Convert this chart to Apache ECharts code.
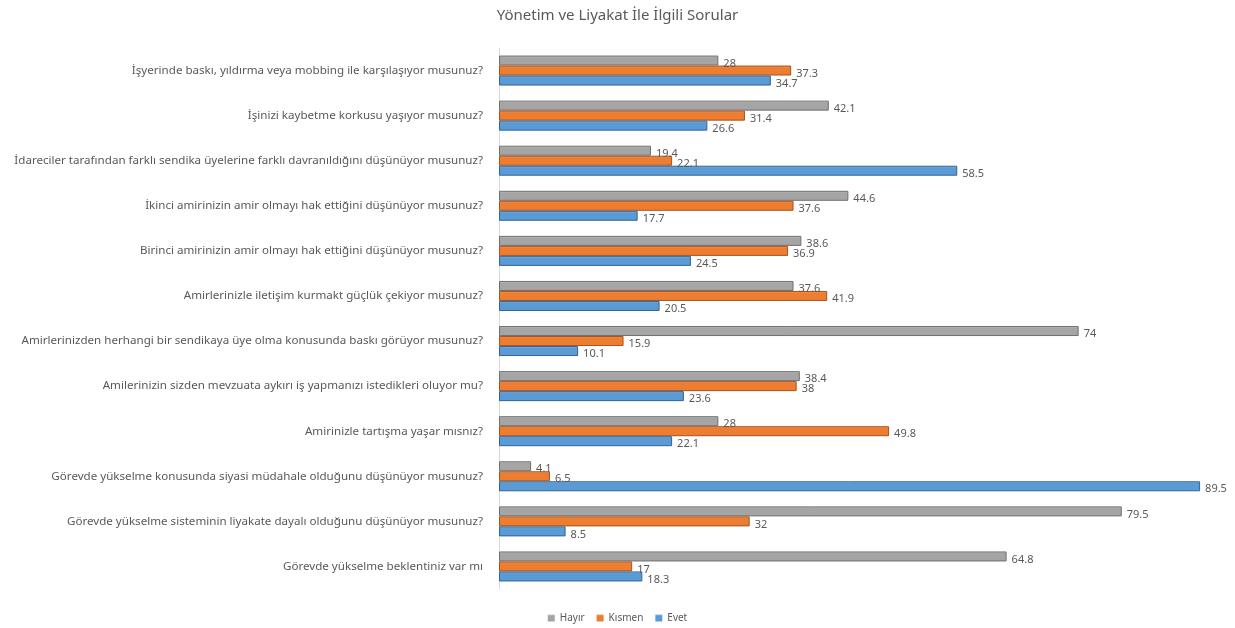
<!DOCTYPE html>
<html>
<head>
<meta charset="utf-8">
<script src="https://cdn.jsdelivr.net/npm/echarts@6/dist/echarts.min.js"></script>
<style>
  html, body { margin: 0; padding: 0; background: #ffffff; }
  #chart { width: 1235px; height: 628px; }
</style>
</head>
<body>
<div id="chart"></div>
<script>
// Survey questions, listed top to bottom
const questions = [
  'İşyerinde baskı, yıldırma veya mobbing ile karşılaşıyor musunuz?',
  'İşinizi kaybetme korkusu yaşıyor musunuz?',
  'İdareciler tarafından farklı sendika üyelerine farklı davranıldığını düşünüyor musunuz?',
  'İkinci amirinizin amir olmayı hak ettiğini düşünüyor musunuz?',
  'Birinci amirinizin amir olmayı hak ettiğini düşünüyor musunuz?',
  'Amirlerinizle iletişim kurmakt güçlük çekiyor musunuz?',
  'Amirlerinizden herhangi bir sendikaya üye olma konusunda baskı görüyor musunuz?',
  'Amilerinizin sizden mevzuata aykırı iş yapmanızı istedikleri oluyor mu?',
  'Amirinizle tartışma yaşar mısnız?',
  'Görevde yükselme konusunda siyasi müdahale olduğunu düşünüyor musunuz?',
  'Görevde yükselme sisteminin liyakate dayalı olduğunu düşünüyor musunuz?',
  'Görevde yükselme beklentiniz var mı'
];

// Answer shares (%)
const hayir  = [28, 42.1, 19.4, 44.6, 38.6, 37.6, 74, 38.4, 28, 4.1, 79.5, 64.8];
const kismen = [37.3, 31.4, 22.1, 37.6, 36.9, 41.9, 15.9, 38, 49.8, 6.5, 32, 17];
const evet   = [34.7, 26.6, 58.5, 17.7, 24.5, 20.5, 10.1, 23.6, 22.1, 89.5, 8.5, 18.3];

const seriesNames = ['Hayır', 'Kısmen', 'Evet'];

const FONT = '"Noto Sans", "Open Sans", sans-serif';
const TEXT = '#595959';

function barStyle(top, base, edge) {
  return {
    color: new echarts.graphic.LinearGradient(0, 0, 0, 1, [
      { offset: 0, color: top },
      { offset: 0.22, color: base },
      { offset: 1, color: base }
    ]),
    borderColor: edge,
    borderWidth: 1
  };
}

function makeSeries(name, data, style) {
  return {
    name: name,
    type: 'bar',
    data: data,
    barWidth: 10,
    barGap: '0%',
    itemStyle: style,
    label: {
      show: true,
      position: 'right',
      distance: 5,
      offset: [0, 3],
      color: TEXT,
      fontFamily: FONT,
      fontSize: 11
    }
  };
}

const chart = echarts.init(document.getElementById('chart'), null, { renderer: 'canvas' });

chart.setOption({
  animation: false,
  backgroundColor: '#ffffff',
  title: {
    text: 'Yönetim ve Liyakat İle İlgili Sorular',
    left: 'center',
    top: 3,
    textStyle: { color: TEXT, fontFamily: FONT, fontSize: 15, fontWeight: 'normal' }
  },
  legend: {
    data: seriesNames,
    bottom: 0,
    left: 'center',
    itemWidth: 7,
    itemHeight: 7,
    itemGap: 12,
    icon: 'rect',
    itemStyle: { borderWidth: 0 },
    textStyle: { color: TEXT, fontFamily: FONT, fontSize: 10 }
  },
  grid: { left: 499, right: 31, top: 48, bottom: 39, containLabel: false },
  xAxis: {
    type: 'value',
    min: 0,
    max: 90,
    show: false
  },
  yAxis: {
    type: 'category',
    data: questions,
    inverse: true,
    axisLine: { show: true, lineStyle: { color: '#d9d9d9', width: 1 } },
    axisTick: { show: false },
    axisLabel: { color: TEXT, fontFamily: FONT, fontSize: 11.6, margin: 16 }
  },
  series: [
    makeSeries('Hayır', hayir, barStyle('#c8c8c8', '#a5a5a5', '#6f6f6f')),
    makeSeries('Kısmen', kismen, barStyle('#f4a46c', '#ed7d31', '#a9521b')),
    makeSeries('Evet', evet, barStyle('#8fbde6', '#5b9bd5', '#2f6399'))
  ],
  color: ['#a5a5a5', '#ed7d31', '#5b9bd5']
});
</script>
</body>
</html>
